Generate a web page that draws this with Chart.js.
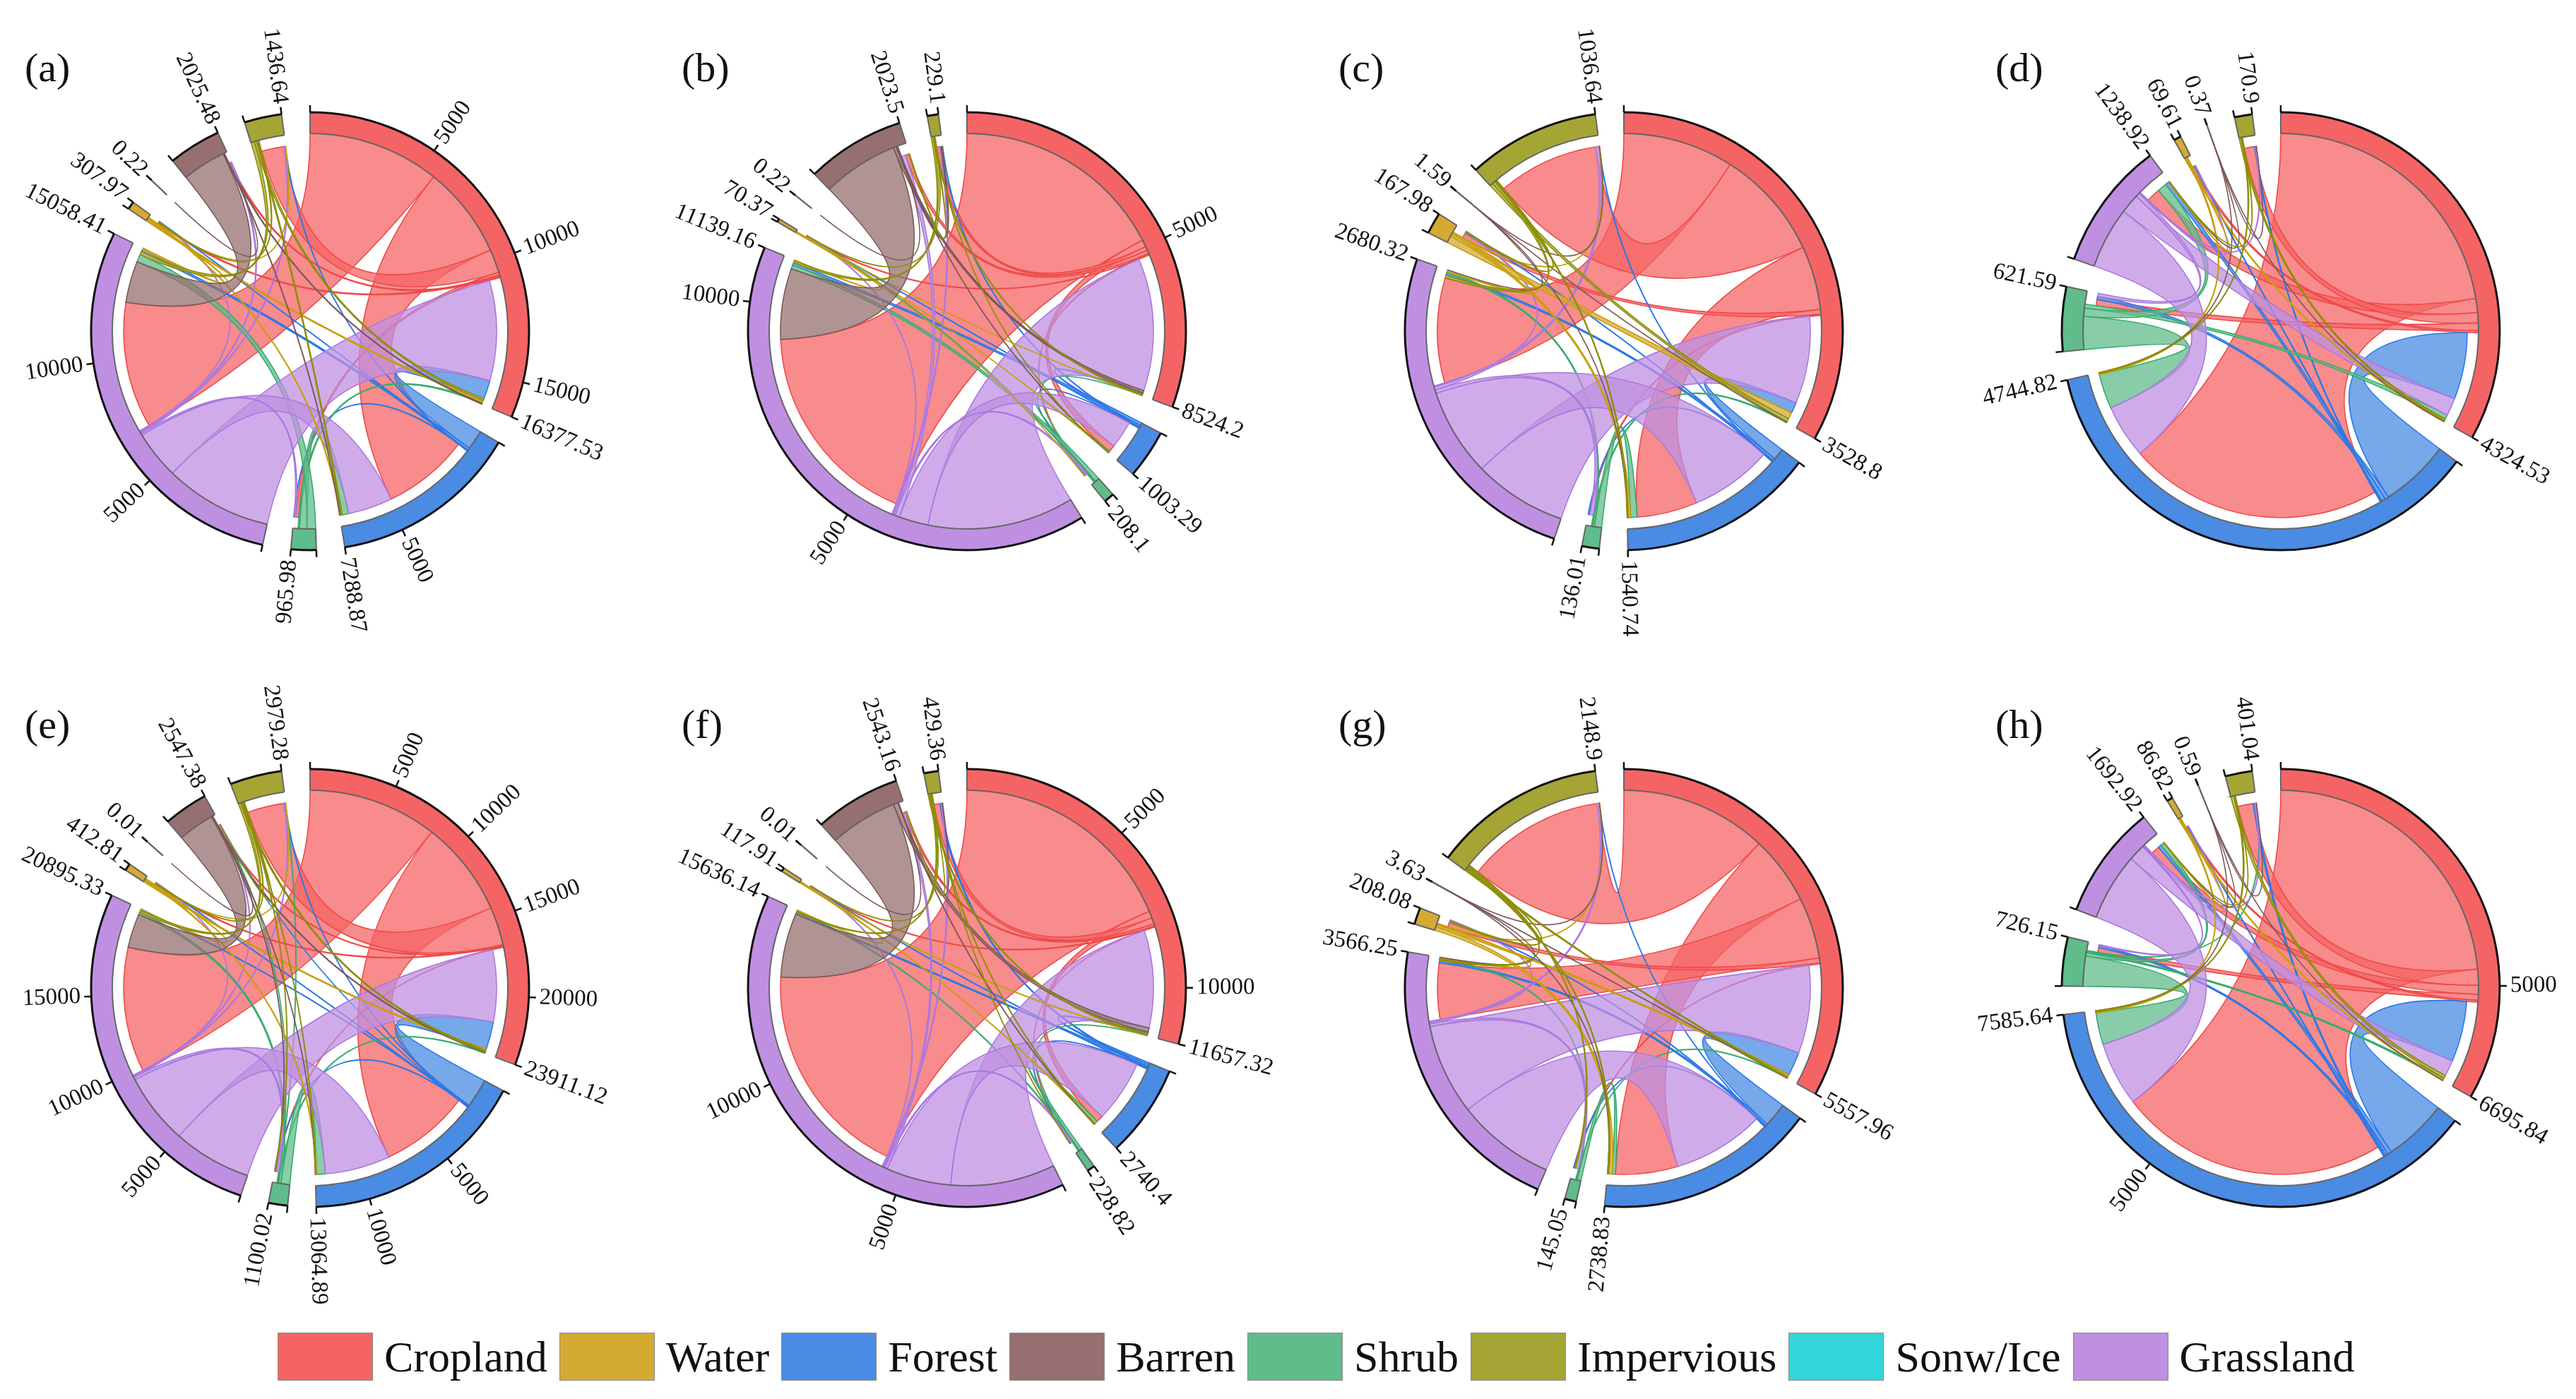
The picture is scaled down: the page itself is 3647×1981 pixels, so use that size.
<!DOCTYPE html>
<html>
<head>
<meta charset="utf-8">
<title>Land use transfer chord diagrams</title>
<script src="https://cdn.jsdelivr.net/npm/chart.js@4/dist/chart.umd.min.js"></script>
<style>
	html, body { margin: 0; padding: 0; background: #fff; }
	#page { position: relative; width: 3647px; height: 1981px; overflow: hidden; background: #fff; }
	#page canvas { position: absolute; }
	#legend { position: absolute; left: 393px; top: 1887px; height: 68px; display: flex; align-items: center; font: 62px "Liberation Serif", serif; color: #111; }
	#legend i { display: block; width: 133px; height: 66px; border: 1px solid #888; margin-right: 16px; }
	#legend span { margin-right: 17px; }
</style>
</head>
<body>
<div id="page"><div id="legend"></div></div>
<script>
'use strict';

// Sector order round the circle, clockwise from 12 o'clock.
const SECTORS = [ 'Cropland', 'Forest', 'Shrub', 'Grassland', 'Water', 'Sonw/Ice', 'Barren', 'Impervious' ];
const LEGEND_ORDER = [ 'Cropland', 'Water', 'Forest', 'Barren', 'Shrub', 'Impervious', 'Sonw/Ice', 'Grassland' ];
const COLORS = [ '#f56464', '#4a8be3', '#60bc8a', '#bf90e2', '#d4aa33', '#33d6d9', '#967070', '#a5a535' ];
const EDGE_COLORS = [ '#ef4a4a', '#2c78e6', '#38ab6e', '#aa78e0', '#c79f0a', '#20c0c4', '#7a5858', '#8e8e08' ];
const PANEL_NAMES = [ '(a)', '(b)', '(c)', '(d)', '(e)', '(f)', '(g)', '(h)' ];

// Sector totals, same order as SECTORS.
const TOTALS_A = [ 16377.53, 7288.87, 965.98, 15058.41, 307.97, 0.22, 2025.48, 1436.64 ];
const TOTALS_B = [ 8524.2, 1003.29, 208.1, 11139.16, 70.37, 0.22, 2023.5, 229.1 ];
const TOTALS_C = [ 3528.8, 1540.74, 136.01, 2680.32, 167.98, 0, 1.59, 1036.64 ];
const TOTALS_D = [ 4324.53, 4744.82, 621.59, 1238.92, 69.61, 0, 0.37, 170.9 ];
const TOTALS_E = [ 23911.12, 13064.89, 1100.02, 20895.33, 412.81, 0.01, 2547.38, 2979.28 ];
const TOTALS_F = [ 11657.32, 2740.4, 228.82, 15636.14, 117.91, 0.01, 2543.16, 429.36 ];
const TOTALS_G = [ 5557.96, 2738.83, 145.05, 3566.25, 208.08, 0, 3.63, 2148.9 ];
const TOTALS_H = [ 6695.84, 7585.64, 726.15, 1692.92, 86.82, 0, 0.59, 401.04 ];

const FLOWS_A = [
	[ 0, 3990, 120, 5700, 60, 0, 60, 1014 ],
	[ 850, 0, 20, 100, 20, 0, 0, 20 ],
	[ 60, 300, 0, 350, 0, 0, 0, 0 ],
	[ 4590, 2050, 70, 0, 30, 0, 60, 50 ],
	[ 80, 40, 0, 70, 0, 0, 0, 20 ],
	[ 0, 0, 0, 0, 0, 0, 0, 0 ],
	[ 35, 20, 0, 1880, 0, 0.22, 0, 0 ],
	[ 100, 60, 0, 150, 40, 0, 0, 0 ],
];
const FLOWS_B = [
	[ 0, 170, 25, 5000, 15, 0, 80, 90 ],
	[ 40, 0, 10, 60, 10, 0, 0, 15 ],
	[ 5, 30, 0, 95, 5, 0, 0, 0 ],
	[ 3300, 660, 40, 0, 10, 0, 100, 30 ],
	[ 5, 5, 5, 15, 0, 0, 0, 0 ],
	[ 0, 0, 0, 0, 0, 0, 0, 0 ],
	[ 60, 5, 0, 1700, 0, 0.22, 0, 30 ],
	[ 20, 5, 0, 50, 5, 0, 20, 0 ],
];
const FLOWS_C = [
	[ 0, 556, 10, 964, 40, 0, 0, 960 ],
	[ 100, 0, 5, 20, 5, 0, 0, 5 ],
	[ 10, 60, 0, 15, 0, 0, 0, 0 ],
	[ 807, 757, 30, 0, 10, 0, 0, 25 ],
	[ 60, 20, 0, 15, 0, 0, 0, 5 ],
	[ 0, 0, 0, 0, 0, 0, 0, 0 ],
	[ 0.5, 0.3, 0, 0.4, 0, 0, 0, 0.4 ],
	[ 30, 10, 0, 25, 10, 0, 0, 0 ],
];
const FLOWS_D = [
	[ 0, 2940, 80, 150, 25, 0, 0, 110 ],
	[ 760, 0, 40, 40, 10, 0, 0, 10 ],
	[ 50, 400, 0, 100, 0, 0, 0, 0 ],
	[ 200, 620, 40, 0, 5, 0, 0, 10 ],
	[ 15, 15, 0, 5, 0, 0, 0, 0 ],
	[ 0, 0, 0, 0, 0, 0, 0, 0 ],
	[ 0.1, 0.1, 0, 0.1, 0, 0, 0, 0.07 ],
	[ 20, 10, 0, 5, 0, 0, 0, 0 ],
];
const FLOWS_E = [
	[ 0, 6275, 50, 8440, 60, 0, 60, 2500 ],
	[ 1900, 0, 30, 40, 30, 0, 10, 30 ],
	[ 50, 600, 0, 150, 0, 0, 30, 30 ],
	[ 5000, 4530, 170, 0, 20, 0, 50, 60 ],
	[ 100, 60, 0, 60, 0, 0, 0, 10 ],
	[ 0, 0, 0, 0, 0, 0, 0, 0 ],
	[ 60, 10, 20, 2300, 0, 0.01, 0, 0 ],
	[ 100, 30, 30, 150, 60, 0, 20, 0 ],
];
const FLOWS_F = [
	[ 0, 230, 10, 7530, 30, 0, 70, 200 ],
	[ 60, 0, 30, 60, 20, 0, 0, 40 ],
	[ 10, 90, 0, 30, 0, 0, 0, 0 ],
	[ 3400, 2112, 50, 0, 15, 0, 80, 40 ],
	[ 20, 20, 0, 15, 0, 0, 0, 0 ],
	[ 0, 0, 0, 0, 0, 0, 0, 0 ],
	[ 150, 10, 0, 2220, 0, 0.01, 0, 10 ],
	[ 40, 20, 10, 40, 10, 0, 10, 0 ],
];
const FLOWS_G = [
	[ 0, 950, 10, 850, 70, 0, 0, 2030 ],
	[ 350, 0, 5, 30, 10, 0, 0, 5 ],
	[ 5, 50, 0, 15, 0, 0, 0, 0 ],
	[ 1290, 1400, 40, 0, 10, 0, 0, 25 ],
	[ 30, 50, 0, 15, 0, 0, 0, 5 ],
	[ 0, 0, 0, 0, 0, 0, 0, 0 ],
	[ 1, 1, 0, 0.8, 0, 0, 0, 0.83 ],
	[ 20, 20, 15, 20, 20, 0, 0, 0 ],
];
const FLOWS_H = [
	[ 0, 4750, 100, 150, 30, 0, 0, 260 ],
	[ 1060, 0, 40, 60, 15, 0, 0, 30 ],
	[ 30, 560, 0, 60, 0, 0, 0, 10 ],
	[ 280, 1130, 20, 0, 5, 0, 0, 15 ],
	[ 20, 20, 0, 5, 0, 0, 0, 0 ],
	[ 0, 0, 0, 0, 0, 0, 0, 0 ],
	[ 0.15, 0.15, 0, 0.15, 0, 0, 0, 0.14 ],
	[ 50, 20, 0, 5, 0, 0, 0, 0 ],
];

const PANEL_TOTALS = [ TOTALS_A, TOTALS_B, TOTALS_C, TOTALS_D, TOTALS_E, TOTALS_F, TOTALS_G, TOTALS_H ];
const PANEL_FLOWS = [ FLOWS_A, FLOWS_B, FLOWS_C, FLOWS_D, FLOWS_E, FLOWS_F, FLOWS_G, FLOWS_H ];

// Layout, kept apart from the data.
const CENTER_X = [ 439, 1369, 2299, 3229 ];
const CENTER_Y = [ 469, 1399 ];
const CANVAS_SIZE = 960;
const OUTER_R = 310;
const INNER_R = 280;
const LINK_IN_R = 264;
const GAP_DEG = 7.5;
const TICK_STEP = 5000;
const TICK_END_SKIP = 1000; // no round tick this close to the sector end
const TICK_LEN = 10;
const LABEL_FONT = '33px "Liberation Serif", serif';

// Ribbons: each sector's arc is shared out to its flows, outgoing first, largest first.
function ribbonSpans( flows, arcs ) {
	const spans = {};
	arcs.forEach( ( arc, i ) => {
		if ( ! arc ) return;
		const items = [];
		const outs = [];
		const ins = [];
		SECTORS.forEach( ( s, j ) => {
			if ( flows[ i ][ j ] ) outs.push( { key: i + '-' + j, end: 'a', v: flows[ i ][ j ] } );
			if ( flows[ j ][ i ] ) ins.push( { key: j + '-' + i, end: 'b', v: flows[ j ][ i ] } );
		} );
		outs.sort( ( p, q ) => q.v - p.v );
		ins.sort( ( p, q ) => q.v - p.v );
		items.push( ...outs, ...ins );
		const sum = items.reduce( ( t, it ) => t + it.v, 0 );
		const perUnit = ( arc.endAngle - arc.startAngle ) / ( sum || 1 );
		let a = arc.startAngle;
		items.forEach( ( it ) => {
			spans[ it.key ] = spans[ it.key ] || {};
			spans[ it.key ][ it.end ] = [ a, a + it.v * perUnit ];
			a += it.v * perUnit;
		} );
	} );
	return spans;
}

function drawRibbon( ctx, x, y, a, b ) {
	ctx.beginPath();
	ctx.arc( x, y, INNER_R, a[ 0 ], a[ 1 ] );
	ctx.quadraticCurveTo( x, y, x + LINK_IN_R * Math.cos( b[ 0 ] ), y + LINK_IN_R * Math.sin( b[ 0 ] ) );
	ctx.arc( x, y, LINK_IN_R, b[ 0 ], b[ 1 ] );
	ctx.quadraticCurveTo( x, y, x + INNER_R * Math.cos( a[ 0 ] ), y + INNER_R * Math.sin( a[ 0 ] ) );
	ctx.closePath();
	ctx.fill();
	ctx.stroke();
}

function radialText( ctx, x, y, angle, r, text ) {
	const right = Math.cos( angle ) >= 0;
	ctx.save();
	ctx.translate( x + r * Math.cos( angle ), y + r * Math.sin( angle ) );
	ctx.rotate( right ? angle : angle + Math.PI );
	ctx.textAlign = right ? 'left' : 'right';
	ctx.textBaseline = 'middle';
	ctx.fillText( text, 0, 0 );
	ctx.restore();
}

function radialLine( ctx, x, y, angle, r0, r1 ) {
	ctx.beginPath();
	ctx.moveTo( x + r0 * Math.cos( angle ), y + r0 * Math.sin( angle ) );
	ctx.lineTo( x + r1 * Math.cos( angle ), y + r1 * Math.sin( angle ) );
	ctx.stroke();
}

const chordPlugin = {
	id: 'chord',
	afterDatasetsDraw( chart, args, opts ) {
		const { ctx } = chart;
		const { totals, flows, name } = opts;
		const elements = chart.getDatasetMeta( 0 ).data;
		const x = elements[ 0 ].x;
		const y = elements[ 0 ].y;
		const arcs = SECTORS.map( () => null );
		let k = 0;
		totals.forEach( ( v, i ) => {
			if ( v > 0 ) {
				arcs[ i ] = elements[ k ];
				k += 2; // every other slice is a blank gap
			}
		} );

		ctx.save();

		// ribbons
		const spans = ribbonSpans( flows, arcs );
		flows.forEach( ( row, i ) => {
			row.forEach( ( v, j ) => {
				const s = spans[ i + '-' + j ];
				if ( ! v || ! s || ! s.a || ! s.b ) return;
				ctx.fillStyle = COLORS[ i ] + 'bf';
				ctx.strokeStyle = EDGE_COLORS[ i ];
				ctx.lineWidth = 1.6;
				drawRibbon( ctx, x, y, s.a, s.b );
			} );
		} );

		// track outlines, ticks, labels
		ctx.font = LABEL_FONT;
		ctx.fillStyle = '#111';
		arcs.forEach( ( arc, i ) => {
			if ( ! arc ) return;
			const perUnit = ( arc.endAngle - arc.startAngle ) / totals[ i ];

			ctx.strokeStyle = '#666';
			ctx.lineWidth = 2;
			ctx.beginPath();
			ctx.arc( x, y, INNER_R, arc.startAngle, arc.endAngle );
			ctx.stroke();
			radialLine( ctx, x, y, arc.startAngle, INNER_R, OUTER_R );
			radialLine( ctx, x, y, arc.endAngle, INNER_R, OUTER_R );

			ctx.strokeStyle = '#111';
			ctx.lineWidth = 3;
			ctx.beginPath();
			ctx.arc( x, y, OUTER_R, arc.startAngle, arc.endAngle );
			ctx.stroke();
			ctx.lineWidth = 2.5;
			radialLine( ctx, x, y, arc.startAngle, OUTER_R, OUTER_R + TICK_LEN );
			radialLine( ctx, x, y, arc.endAngle, OUTER_R, OUTER_R + TICK_LEN );
			radialText( ctx, x, y, arc.endAngle, OUTER_R + TICK_LEN + 5, String( totals[ i ] ) );

			for ( let t = TICK_STEP; t < totals[ i ] - TICK_END_SKIP; t += TICK_STEP ) {
				const a = arc.startAngle + t * perUnit;
				radialLine( ctx, x, y, a, OUTER_R, OUTER_R + TICK_LEN );
				radialText( ctx, x, y, a, OUTER_R + TICK_LEN + 5, String( t ) );
			}
		} );

		// panel letter
		ctx.font = '58px "Liberation Serif", serif';
		ctx.textAlign = 'left';
		ctx.textBaseline = 'alphabetic';
		ctx.fillText( name, x - 404, y - 354 );
		ctx.restore();
	},
};

function buildPanel( idx ) {
	const totals = PANEL_TOTALS[ idx ];
	const flows = PANEL_FLOWS[ idx ];
	const present = totals.filter( ( v ) => v > 0 );
	const sum = present.reduce( ( t, v ) => t + v, 0 );
	const gap = sum * GAP_DEG / ( 360 - present.length * GAP_DEG );
	const data = [];
	const colors = [];
	totals.forEach( ( v, i ) => {
		if ( v > 0 ) {
			data.push( v, gap );
			colors.push( COLORS[ i ], 'rgba(0,0,0,0)' );
		}
	} );

	const canvas = document.createElement( 'canvas' );
	canvas.width = CANVAS_SIZE;
	canvas.height = CANVAS_SIZE;
	canvas.style.left = ( CENTER_X[ idx % 4 ] - CANVAS_SIZE / 2 ) + 'px';
	canvas.style.top = ( CENTER_Y[ Math.floor( idx / 4 ) ] - CANVAS_SIZE / 2 ) + 'px';
	canvas.style.width = CANVAS_SIZE + 'px';
	canvas.style.height = CANVAS_SIZE + 'px';
	document.getElementById( 'page' ).appendChild( canvas );

	new Chart( canvas, {
		type: 'doughnut',
		data: { datasets: [ { data, backgroundColor: colors, borderWidth: 0 } ] },
		options: {
			responsive: false,
			animation: false,
			devicePixelRatio: 1,
			radius: OUTER_R,
			cutout: ( INNER_R / OUTER_R * 100 ) + '%',
			plugins: {
				legend: { display: false },
				tooltip: { enabled: false },
				chord: { totals, flows, name: PANEL_NAMES[ idx ] },
			},
		},
		plugins: [ chordPlugin ],
	} );
}

PANEL_NAMES.forEach( ( n, i ) => buildPanel( i ) );

const legend = document.getElementById( 'legend' );
LEGEND_ORDER.forEach( ( name ) => {
	const box = document.createElement( 'i' );
	box.style.background = COLORS[ SECTORS.indexOf( name ) ];
	const label = document.createElement( 'span' );
	label.textContent = name;
	legend.append( box, label );
} );
</script>
</body>
</html>
